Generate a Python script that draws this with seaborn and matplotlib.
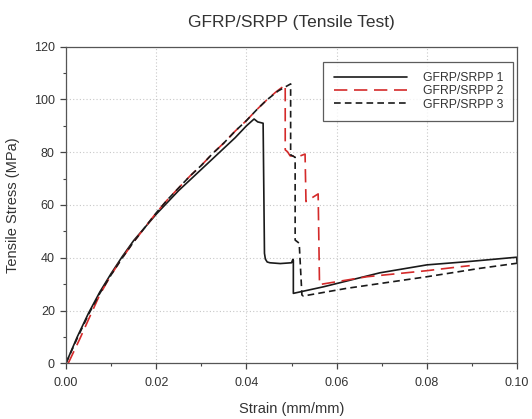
import numpy as np
import pandas as pd
import matplotlib
matplotlib.use("Agg")
import matplotlib.pyplot as plt
import seaborn as sns
from matplotlib.ticker import MultipleLocator

# ---- data ----
strain_1 = [0.0, 0.0025, 0.0050, 0.0075, 0.0100, 0.0125, 0.0150, 0.0175, 0.0200, 0.0225,
            0.0250, 0.0275, 0.0300, 0.0325, 0.0350, 0.0375, 0.0400, 0.0417, 0.0425, 0.0437,
            0.0440, 0.0442, 0.0446, 0.0452, 0.0475, 0.0500, 0.0503, 0.0504, 0.0504, 0.0571,
            0.0696, 0.0800, 0.0888, 0.0999, 0.1000]
stress_1 = [0.0, 10.0, 19.0, 27.0, 34.0, 40.5, 46.5, 51.5, 56.5, 61.0,
            65.5, 69.5, 73.5, 77.5, 81.5, 85.5, 90.0, 92.6, 91.5, 91.0,
            41.7, 39.5, 38.4, 38.1, 37.8, 38.1, 39.4, 39.0, 26.5, 29.0,
            34.3, 37.3, 38.5, 40.2, 38.0]

strain_2 = [0.0005, 0.0030, 0.0055, 0.0075, 0.0100, 0.0125, 0.0150, 0.0175, 0.0200, 0.0225,
            0.0250, 0.0275, 0.0300, 0.0325, 0.0350, 0.0375, 0.0400, 0.0425, 0.0445, 0.0465,
            0.0486, 0.0486, 0.0491, 0.0497, 0.0519, 0.0530, 0.0532, 0.0559, 0.0562, 0.0571,
            0.0667, 0.0800, 0.0874, 0.0895]
stress_2 = [0.0, 9.0, 18.5, 26.0, 33.5, 40.0, 46.0, 51.5, 57.0, 62.0,
            66.5, 71.0, 75.0, 79.5, 83.5, 88.0, 92.0, 96.5, 99.8, 102.8,
            105.5, 80.9, 80.2, 78.6, 78.6, 79.3, 61.3, 64.2, 29.8, 30.1,
            32.8, 35.1, 36.6, 37.0]

strain_3 = [0.0, 0.0025, 0.0050, 0.0075, 0.0100, 0.0125, 0.0150, 0.0175, 0.0200, 0.0225,
            0.0250, 0.0275, 0.0300, 0.0325, 0.0350, 0.0375, 0.0400, 0.0425, 0.0445, 0.0470,
            0.0498, 0.0498, 0.0508, 0.0508, 0.0517, 0.0523, 0.0526, 0.0622, 0.0800, 0.0918,
            0.0999, 0.1000]
stress_3 = [0.0, 9.5, 18.5, 26.5, 33.5, 40.0, 46.0, 51.5, 57.0, 62.0,
            66.5, 71.0, 75.0, 79.5, 83.5, 88.0, 92.0, 96.5, 99.8, 103.2,
            105.9, 79.0, 78.1, 46.7, 45.5, 25.9, 25.5, 28.4, 32.8, 36.0,
            37.9, 37.9]

series_names = ["GFRP/SRPP 1", "GFRP/SRPP 2", "GFRP/SRPP 3"]
title = "GFRP/SRPP (Tensile Test)"
xlabel = "Strain (mm/mm)"
ylabel = "Tensile Stress (MPa)"

# ---- plot ----
sns.set_style("white")
plt.rcParams["font.family"] = ["Liberation Sans", "DejaVu Sans"]
text_c = "#333333"

fig = plt.figure(figsize=(5.32, 4.19), dpi=100)
ax = fig.add_axes([0.124, 0.133, 0.848, 0.7555])

colors = ["#1a1a1a", "#d42a2a", "#1a1a1a"]
dashes = [None, (8, 4), (4, 2.5)]
for xs, ys, name, c, d in zip([strain_1, strain_2, strain_3],
                              [stress_1, stress_2, stress_3],
                              series_names, colors, dashes):
    df = pd.DataFrame({"x": xs, "y": ys})
    sns.lineplot(data=df, x="x", y="y", sort=False, estimator=None,
                 color=c, lw=1.2, ax=ax, label=name)
    if d is not None:
        ax.lines[-1].set_dashes(d)

ax.set_xlim(0, 0.10)
ax.set_ylim(0, 120)
ax.xaxis.set_major_locator(MultipleLocator(0.02))
ax.xaxis.set_minor_locator(MultipleLocator(0.01))
ax.yaxis.set_major_locator(MultipleLocator(20))
ax.yaxis.set_minor_locator(MultipleLocator(10))
ax.xaxis.set_major_formatter(matplotlib.ticker.FormatStrFormatter("%.2f"))
ax.grid(True, which="major", linestyle=(0, (1, 2)), color="#c8c8c8", lw=0.8)
ax.tick_params(which="major", direction="out", length=4, width=0.9, color="#444444",
               labelsize=9, labelcolor=text_c, bottom=True, left=True, pad=4)
ax.tick_params(axis="x", which="major", pad=6)
ax.tick_params(which="minor", direction="out", length=2.5, width=0.8, color="#444444",
               bottom=True, left=True)
for s in ax.spines.values():
    s.set_color("#555555")
    s.set_linewidth(0.9)

ax.set_xlabel(xlabel, fontsize=10.5, color=text_c, labelpad=9)
ax.set_ylabel(ylabel, fontsize=10.5, color=text_c, labelpad=10)
ax.set_title(title, fontsize=12.5, color=text_c, pad=14)

leg = ax.legend(loc="upper right", bbox_to_anchor=(0.992, 0.9526), frameon=True,
                fancybox=False, edgecolor="#333333", fontsize=8.8, handlelength=6.0,
                handletextpad=1.3, borderpad=0.85, labelspacing=0.1, borderaxespad=0)
leg.get_frame().set_linewidth(0.9)
for t in leg.get_texts():
    t.set_color(text_c)

fig.savefig("out.png", dpi=100)
